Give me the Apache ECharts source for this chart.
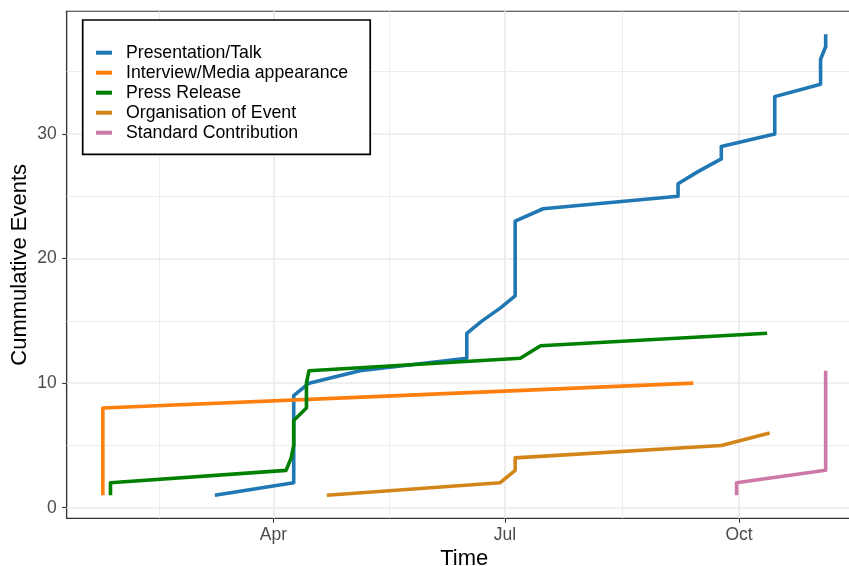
<!DOCTYPE html>
<html><head><meta charset="utf-8">
<script src="https://cdn.jsdelivr.net/npm/echarts@6/dist/echarts.min.js"></script>
<style>html,body{margin:0;padding:0;background:#fff}#c{width:849px;height:566px}</style>
</head><body><div id="c"></div>
<script>
// ---- data ----
const seriesNames = ['Presentation/Talk','Interview/Media appearance','Press Release','Organisation of Event','Standard Contribution'];
const seriesColors = ['#1f77b4','#ff7f0e','#008000','#d4851a','#cc79a7'];

const talkDates = ['2022-03-09','2022-04-09','2022-04-09','2022-04-09','2022-04-09','2022-04-09','2022-04-09','2022-04-09','2022-04-09','2022-04-15','2022-05-05','2022-06-16','2022-06-16','2022-06-16','2022-06-22','2022-06-29','2022-07-05','2022-07-05','2022-07-05','2022-07-05','2022-07-05','2022-07-05','2022-07-05','2022-07-16','2022-09-07','2022-09-07','2022-09-15','2022-09-24','2022-09-24','2022-10-15','2022-10-15','2022-10-15','2022-10-15','2022-11-02','2022-11-02','2022-11-02','2022-11-04','2022-11-04'];
const talkCounts = [1,2,3,4,5,6,7,8,9,10,11,12,13,14,15,16,17,18,19,20,21,22,23,24,25,26,27,28,29,30,31,32,33,34,35,36,37,38];

const mediaDates = ['2022-01-24','2022-01-24','2022-01-24','2022-01-24','2022-01-24','2022-01-24','2022-01-24','2022-01-24','2022-05-20','2022-09-13'];
const mediaCounts = [1,2,3,4,5,6,7,8,9,10];

const pressDates = ['2022-01-27','2022-01-27','2022-04-06','2022-04-08','2022-04-09','2022-04-09','2022-04-09','2022-04-14','2022-04-14','2022-04-14','2022-04-15','2022-07-07','2022-07-15','2022-10-12'];
const pressCounts = [1,2,3,4,5,6,7,8,9,10,11,12,13,14];

const eventDates = ['2022-04-22','2022-06-29','2022-07-05','2022-07-05','2022-09-24','2022-10-13'];
const eventCounts = [1,2,3,4,5,6];

const standardDates = ['2022-09-30','2022-09-30','2022-11-04','2022-11-04','2022-11-04','2022-11-04','2022-11-04','2022-11-04','2022-11-04','2022-11-04','2022-11-04'];
const standardCounts = [1,2,3,4,5,6,7,8,9,10,11];

const xBreakDates = ['2022-01-01','2022-04-01','2022-07-01','2022-10-01','2023-01-01'];
const xTickLabels = ['Jan','Apr','Jul','Oct','Jan'];
const yBreaks = [0,10,20,30];
const yMinorBreaks = [5,15,25,35];

// ---- helpers ----
const ORIGIN = Date.UTC(2022,0,1);
function dayOf(s){const p=s.split('-').map(Number);return (Date.UTC(p[0],p[1]-1,p[2])-ORIGIN)/86400000;}
function pairs(dates,counts){return dates.map((d,i)=>[dayOf(d),counts[i]]);}

const allSeries = [
  pairs(talkDates,talkCounts), pairs(mediaDates,mediaCounts), pairs(pressDates,pressCounts),
  pairs(eventDates,eventCounts), pairs(standardDates,standardCounts)
];
let xs=[],ys=[];
allSeries.forEach(s=>s.forEach(p=>{xs.push(p[0]);ys.push(p[1]);}));
const xMin0=Math.min(...xs), xMax0=Math.max(...xs), yMin0=Math.min(...ys), yMax0=Math.max(...ys);
const xMin=xMin0-0.05*(xMax0-xMin0), xMax=xMax0+0.05*(xMax0-xMin0);
const yMin=yMin0-0.05*(yMax0-yMin0), yMax=yMax0+0.05*(yMax0-yMin0);

const xBreaks = xBreakDates.map(dayOf);
const xMajor = xBreaks.filter(v=>v>=xMin&&v<=xMax);
const xMinor = [];
for(let i=0;i<xBreaks.length-1;i++){const m=(xBreaks[i]+xBreaks[i+1])/2; if(m>=xMin&&m<=xMax) xMinor.push(m);}
const labelMap = {}; xBreaks.forEach((v,i)=>labelMap[v]=xTickLabels[i]);

const FONT = '"Liberation Sans", Arial, sans-serif';
const GRID = '#ebebeb';

const gridLines = [];
xMinor.forEach(v=>gridLines.push({xAxis:v,lineStyle:{color:GRID,width:0.9,type:'solid'}}));
yMinorBreaks.forEach(v=>gridLines.push({yAxis:v,lineStyle:{color:GRID,width:0.9,type:'solid'}}));
xMajor.forEach(v=>gridLines.push({xAxis:v,lineStyle:{color:GRID,width:1.7,type:'solid'}}));
yBreaks.forEach(v=>gridLines.push({yAxis:v,lineStyle:{color:GRID,width:1.7,type:'solid'}}));

const series = [{
  type:'line', name:'_grid', data:[], z:1, silent:true,
  markLine:{z:1, silent:true, symbol:['none','none'], label:{show:false}, animation:false, data:gridLines}
}];
allSeries.forEach((d,i)=>series.push({
  type:'line', name:seriesNames[i], data:d, showSymbol:false, symbol:'none', z:3,
  color:seriesColors[i],
  lineStyle:{color:seriesColors[i], width:3.6, cap:'butt', join:'round'}
}));

const chart = echarts.init(document.getElementById('c'), null, {renderer:'canvas'});
chart.setOption({
  animation:false,
  backgroundColor:'#ffffff',
  textStyle:{fontFamily:FONT},
  grid:{left:66.7, top:11.3, bottom:47.7, right:-12.8, containLabel:false, outerBoundsMode:'none',
        show:true, borderColor:'#333333', borderWidth:1.1, backgroundColor:'#fff'},
  legend:{
    data:seriesNames, orient:'vertical', left:82.7, top:20, z:10,
    icon:'rect', itemWidth:16, itemHeight:4, itemGap:0,
    padding:[22.7,22,11.6,13.3],
    backgroundColor:'#ffffff', borderColor:'#000000', borderWidth:1.7,
    textStyle:{fontSize:17.7, color:'#000', fontFamily:FONT, lineHeight:20, padding:[0,0,0,9]}
  },
  xAxis:{
    type:'value', min:xMin, max:xMax,
    name:'Time', nameLocation:'middle', nameGap:30, nameMoveOverlap:false,
    nameTextStyle:{fontSize:22, color:'#000', fontFamily:FONT},
    axisLine:{show:true, onZero:false, lineStyle:{color:'#333333', width:1.1}},
    axisTick:{show:true, length:4.5, customValues:xMajor, lineStyle:{color:'#333333', width:1.1}},
    axisLabel:{customValues:xMajor, formatter:v=>labelMap[v]||'', fontSize:17.5, color:'#4d4d4d', margin:8, fontFamily:FONT},
    splitLine:{show:false}
  },
  yAxis:{
    type:'value', min:yMin, max:yMax,
    name:'Cummulative Events', nameLocation:'middle', nameGap:36, nameRotate:90, nameMoveOverlap:false,
    nameTextStyle:{fontSize:22, color:'#000', fontFamily:FONT},
    axisLine:{show:true, onZero:false, lineStyle:{color:'#333333', width:1.1}},
    axisTick:{show:true, length:4.5, customValues:yBreaks, lineStyle:{color:'#333333', width:1.1}},
    axisLabel:{customValues:yBreaks, fontSize:17.5, color:'#4d4d4d', margin:10, fontFamily:FONT},
    splitLine:{show:false}
  },
  series:series
});
</script></body></html>
